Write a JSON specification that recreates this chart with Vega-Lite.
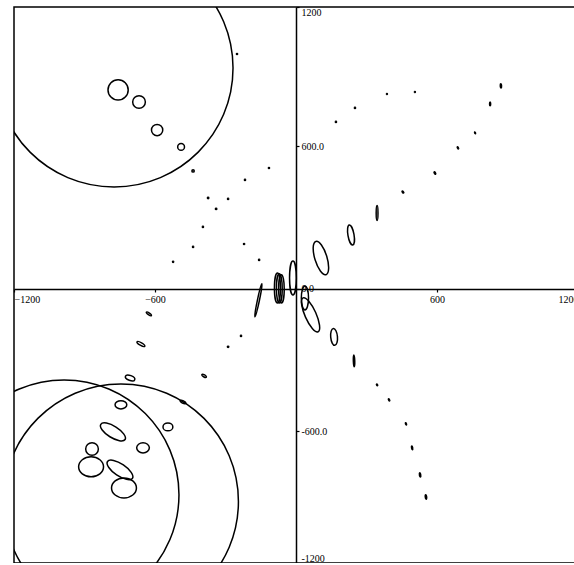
{
  "$schema": "https://vega.github.io/schema/vega-lite/v6.json",
  "width": 564,
  "height": 556,
  "autosize": {"type": "none"},
  "padding": {"left": 14, "top": 7, "right": 0, "bottom": 0},
  "background": "white",
  "config": {
    "view": {"stroke": "black", "strokeWidth": 1.5},
    "axis": {
      "grid": false,
      "title": null,
      "domainColor": "black",
      "domainWidth": 1.5,
      "tickColor": "black",
      "tickWidth": 1.2,
      "tickSize": 3,
      "labelColor": "black",
      "labelFont": "Liberation Serif",
      "labelFontSize": 10,
      "labelPadding": 2
    }
  },
  "data": {
    "values": [
      {"x": -774, "y": 930, "a": 506, "form": "c", "ang": 0},
      {"x": -987, "y": -867, "a": 489, "form": "c", "ang": 0},
      {"x": -745, "y": -895, "a": 500, "form": "c", "ang": 0},
      {"x": -757, "y": 838, "a": 43, "form": "c", "ang": 0},
      {"x": -668, "y": 787, "a": 27, "form": "c", "ang": 0},
      {"x": -591, "y": 669, "a": 24, "form": "c", "ang": 0},
      {"x": -489, "y": 598, "a": 14.5, "form": "c", "ang": 0},
      {"x": -438, "y": 497, "a": 5, "form": "c", "ang": 0},
      {"x": -251, "y": 989, "a": 2.5, "form": "c", "ang": 0},
      {"x": -115, "y": 509, "a": 2.5, "form": "c", "ang": 0},
      {"x": -217, "y": 459, "a": 2.5, "form": "c", "ang": 0},
      {"x": -374, "y": 383, "a": 3, "form": "c", "ang": 0},
      {"x": -289, "y": 379, "a": 2.5, "form": "c", "ang": 0},
      {"x": -340, "y": 337, "a": 3, "form": "c", "ang": 0},
      {"x": -396, "y": 261, "a": 2.5, "form": "c", "ang": 0},
      {"x": -221, "y": 189, "a": 2.5, "form": "c", "ang": 0},
      {"x": -438, "y": 177, "a": 2.5, "form": "c", "ang": 0},
      {"x": -523, "y": 114, "a": 2.5, "form": "c", "ang": 0},
      {"x": -157, "y": 122, "a": 2.5, "form": "c", "ang": 0},
      {"x": 170, "y": 703, "a": 2.5, "form": "c", "ang": 0},
      {"x": 251, "y": 762, "a": 2.5, "form": "c", "ang": 0},
      {"x": 387, "y": 821, "a": 2, "form": "c", "ang": 0},
      {"x": 506, "y": 829, "a": 2, "form": "c", "ang": 0},
      {"x": 872, "y": 855, "a": 9, "form": "e3", "ang": 85},
      {"x": 826, "y": 779, "a": 8, "form": "e3", "ang": 90},
      {"x": 762, "y": 657, "a": 4, "form": "e4", "ang": 70},
      {"x": 689, "y": 594, "a": 5, "form": "e4", "ang": 60},
      {"x": 591, "y": 488, "a": 6, "form": "e4", "ang": 60},
      {"x": 455, "y": 408, "a": 5, "form": "e5", "ang": 50},
      {"x": 345, "y": 320, "a": 32, "form": "e12", "ang": 90},
      {"x": 234, "y": 227, "a": 43, "form": "e3", "ang": 80},
      {"x": 106, "y": 130, "a": 74, "form": "e35", "ang": 73},
      {"x": -13, "y": 46, "a": 72, "form": "e2", "ang": 90},
      {"x": -79, "y": 4, "a": 64, "form": "e2", "ang": 90},
      {"x": -71, "y": 2, "a": 62, "form": "e2", "ang": 90},
      {"x": -62, "y": 0, "a": 60, "form": "e2", "ang": 90},
      {"x": -160, "y": -48, "a": 72, "form": "e06", "ang": 102},
      {"x": 38, "y": -38, "a": 51, "form": "e3", "ang": 90},
      {"x": 62, "y": -109, "a": 79, "form": "e3", "ang": 66},
      {"x": 162, "y": -202, "a": 36, "form": "e4", "ang": 85},
      {"x": 247, "y": -303, "a": 25, "form": "e12", "ang": 88},
      {"x": 345, "y": -404, "a": 4, "form": "e5", "ang": 60},
      {"x": 396, "y": -467, "a": 5, "form": "e4", "ang": 60},
      {"x": 468, "y": -568, "a": 5, "form": "e4", "ang": 70},
      {"x": 494, "y": -669, "a": 8, "form": "e3", "ang": 80},
      {"x": 528, "y": -783, "a": 9, "form": "e3", "ang": 80},
      {"x": 553, "y": -876, "a": 10, "form": "e3", "ang": 85},
      {"x": -626, "y": -105, "a": 13, "form": "e3", "ang": 35},
      {"x": -660, "y": -232, "a": 19, "form": "e3", "ang": 30},
      {"x": -706, "y": -375, "a": 21, "form": "e5", "ang": 20},
      {"x": -234, "y": -198, "a": 2.5, "form": "c", "ang": 0},
      {"x": -289, "y": -244, "a": 3, "form": "c", "ang": 0},
      {"x": -391, "y": -366, "a": 11, "form": "e4", "ang": 30},
      {"x": -481, "y": -476, "a": 13, "form": "e4", "ang": 25},
      {"x": -745, "y": -488, "a": 25, "form": "e7", "ang": 0},
      {"x": -545, "y": -581, "a": 21, "form": "e8", "ang": 0},
      {"x": -779, "y": -602, "a": 61, "form": "e4", "ang": 32},
      {"x": -651, "y": -669, "a": 27, "form": "e8", "ang": 0},
      {"x": -868, "y": -674, "a": 27, "form": "c", "ang": 0},
      {"x": -872, "y": -749, "a": 53, "form": "e8", "ang": 0},
      {"x": -749, "y": -762, "a": 64, "form": "e4", "ang": 34},
      {"x": -732, "y": -838, "a": 53, "form": "e8", "ang": 0}
    ]
  },
  "mark": {"type": "point", "filled": false, "color": "black", "strokeWidth": 1.5, "opacity": 1, "clip": true},
  "encoding": {
    "x": {
      "field": "x", "type": "quantitative",
      "scale": {"domain": [-1200, 1200], "nice": false, "zero": false},
      "axis": {"orient": "bottom", "offset": -274, "values": [-1200, -600, 600, 1200], "format": "d", "labelFlush": true}
    },
    "y": {
      "field": "y", "type": "quantitative",
      "scale": {"domain": [-1154, 1187], "nice": false, "zero": false},
      "axis": {
        "orient": "right", "offset": -282, "values": [-1154, -600, 0, 600, 1187], "labelFlush": true,
        "labelAlign": "left",
        "labelExpr": "datum.value == 600 ? '600.0' : datum.value == -600 ? '-600.0' : datum.value == 0 ? '0.0' : datum.value > 0 ? '1200' : '-1200'"
      }
    },
    "size": {
      "field": "a", "type": "quantitative",
      "scale": {"type": "pow", "exponent": 2, "domain": [0, 600], "range": [0, 79524]},
      "legend": null
    },
    "shape": {
      "field": "form", "type": "nominal",
      "scale": {
        "domain": ["c", "e8", "e7", "e5", "e4", "e35", "e3", "e2", "e12", "e06"],
        "range": [
          "M-1,0A1,1,0,1,0,1,0A1,1,0,1,0,-1,0Z",
          "M-1,0A1,0.8,0,1,0,1,0A1,0.8,0,1,0,-1,0Z",
          "M-1,0A1,0.7,0,1,0,1,0A1,0.7,0,1,0,-1,0Z",
          "M-1,0A1,0.5,0,1,0,1,0A1,0.5,0,1,0,-1,0Z",
          "M-1,0A1,0.4,0,1,0,1,0A1,0.4,0,1,0,-1,0Z",
          "M-1,0A1,0.35,0,1,0,1,0A1,0.35,0,1,0,-1,0Z",
          "M-1,0A1,0.3,0,1,0,1,0A1,0.3,0,1,0,-1,0Z",
          "M-1,0A1,0.2,0,1,0,1,0A1,0.2,0,1,0,-1,0Z",
          "M-1,0A1,0.12,0,1,0,1,0A1,0.12,0,1,0,-1,0Z",
          "M-1,0A1,0.06,0,1,0,1,0A1,0.06,0,1,0,-1,0Z"
        ]
      },
      "legend": null
    },
    "angle": {"field": "ang", "type": "quantitative", "scale": null}
  }
}
